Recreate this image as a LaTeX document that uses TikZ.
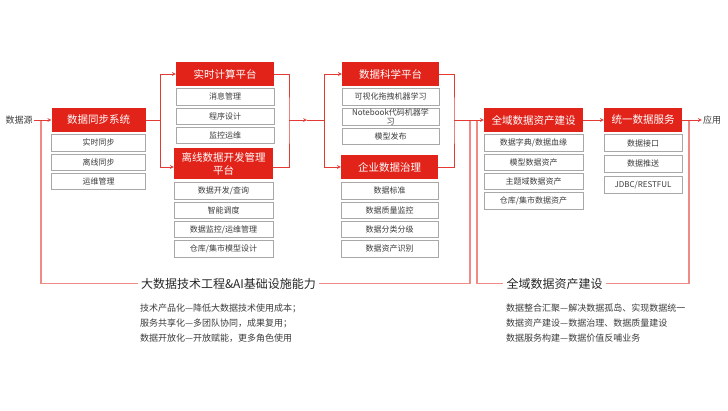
\documentclass[tikz,border=0pt]{standalone}
\usepackage{fontspec}
\setmainfont{Noto Sans CJK SC}
\usetikzlibrary{positioning}
\definecolor{hdred}{HTML}{E2231A}
\definecolor{lnred}{HTML}{E53A33}
\definecolor{pinkln}{HTML}{F08A85}
\definecolor{boxgray}{HTML}{A8A8A8}
\definecolor{txtgray}{HTML}{3C3C3C}

\tikzstyle{hdbox} = [rectangle, fill=hdred, text=white, minimum height=24pt, text centered, inner sep=1pt, font=\fontsize{10.5}{13}\selectfont]
\tikzstyle{subbox} = [rectangle, draw=boxgray, line width=0.8pt, minimum height=16.5pt, text centered, text=txtgray, inner sep=0.5pt, font=\fontsize{8}{9}\selectfont]
\tikzstyle{srctext} = [rectangle, inner sep=1pt, text=txtgray, font=\fontsize{9}{10}\selectfont]
\tikzstyle{grptitle} = [rectangle, inner sep=3pt, text=black!85, font=\fontsize{12}{14}\selectfont]
\tikzstyle{grpdesc} = [rectangle, inner sep=0pt, align=left, text=txtgray, font=\fontsize{9}{15}\selectfont]
\tikzstyle{link} = [draw=lnred, line width=0.7pt]
\tikzstyle{arrow} = [link, ->, >=stealth]
\tikzstyle{bracket} = [draw=pinkln, line width=1.2pt]

\begin{document}
\begin{tikzpicture}[x=1pt, y=-1pt, node distance=2pt]
  \useasboundingbox (0,0) rectangle (728,410);

  \node (src) [srctext] at (19,120) {数据源};
  \node (sync) [hdbox, minimum width=94pt] at (98.5,120) {数据同步系统};
  \node (sync_rt) [subbox, minimum width=94pt, below=of sync] {实时同步};
  \node (sync_off) [subbox, minimum width=94pt, below=of sync_rt] {离线同步};
  \node (sync_ops) [subbox, minimum width=94pt, below=of sync_off] {运维管理};

  \node (rt) [hdbox, minimum width=98pt] at (225,74) {实时计算平台};
  \node (rt_msg) [subbox, minimum width=98pt, below=of rt] {消息管理};
  \node (rt_prog) [subbox, minimum width=98pt, below=of rt_msg] {程序设计};
  \node (rt_mon) [subbox, minimum width=98pt, below=of rt_prog] {监控运维};

  \node (lx) [hdbox, minimum width=99pt, minimum height=31pt, align=center] at (223.5,163.5) {离线数据开发管理\\平台};
  \node (lx_dev) [subbox, minimum width=99pt, below=3pt of lx] {数据开发/查询};
  \node (lx_sched) [subbox, minimum width=99pt, below=of lx_dev] {智能调度};
  \node (lx_mon) [subbox, minimum width=99pt, below=of lx_sched] {数据监控/运维管理};
  \node (lx_wh) [subbox, minimum width=99pt, below=of lx_mon] {仓库/集市模型设计};

  \node (ds) [hdbox, minimum width=97pt] at (390.5,74) {数据科学平台};
  \node (ds_vis) [subbox, minimum width=97pt, below=of ds] {可视化拖拽机器学习};
  \node (ds_nb) [subbox, minimum width=97pt, below=of ds_vis, align=center] {Notebook代码机器学\\习};
  \node (ds_pub) [subbox, minimum width=97pt, below=of ds_nb] {模型发布};

  \node (gov) [hdbox, minimum width=97pt] at (389.5,167) {企业数据治理};
  \node (gov_std) [subbox, minimum width=97pt, below=3pt of gov] {数据标准};
  \node (gov_qc) [subbox, minimum width=97pt, below=of gov_std] {数据质量监控};
  \node (gov_cls) [subbox, minimum width=97pt, below=of gov_qc] {数据分类分级};
  \node (gov_id) [subbox, minimum width=97pt, below=of gov_cls] {数据资产识别};

  \node (asset) [hdbox, minimum width=99pt] at (533.5,120) {全域数据资产建设};
  \node (asset_dict) [subbox, minimum width=99pt, below=of asset] {数据字典/数据血缘};
  \node (asset_model) [subbox, minimum width=99pt, below=of asset_dict] {模型数据资产};
  \node (asset_topic) [subbox, minimum width=99pt, below=of asset_model] {主题域数据资产};
  \node (asset_wh) [subbox, minimum width=99pt, below=of asset_topic] {仓库/集市数据资产};

  \node (svc) [hdbox, minimum width=78pt] at (643,120) {统一数据服务};
  \node (svc_api) [subbox, minimum width=78pt, minimum height=17pt, below=of svc] {数据接口};
  \node (svc_push) [subbox, minimum width=78pt, minimum height=17pt, below=3pt of svc_api] {数据推送};
  \node (svc_jdbc) [subbox, minimum width=78pt, minimum height=17pt, below=3pt of svc_push] {JDBC/RESTFUL};

  \node (app) [srctext] at (712,120) {应用};

  \node (infra) [grptitle] at (228.5,283.5) {大数据技术工程\&AI基础设施能力};
  \node (infra_desc) [grpdesc, anchor=west] at (140,323) {技术产品化—降低大数据技术使用成本；\\服务共享化—多团队协同，成果复用；\\数据开放化—开放赋能，更多角色使用};
  \node (whole) [grptitle] at (554.5,283.5) {全域数据资产建设};
  \node (whole_desc) [grpdesc, anchor=west] at (506,323) {数据整合汇聚—解决数据孤岛、实现数据统一\\数据资产建设—数据治理、数据质量建设\\数据服务构建—数据价值反哺业务};

  \coordinate (src_j) at (41,120);
  \coordinate (sync_j) at (160,120);
  \coordinate (rt_j) at (289,120);
  \coordinate (mid_j) at (307,120);
  \coordinate (ds_j) at (324,120);
  \coordinate (gov_j) at (454,120);
  \coordinate (infra_end) at (470,120);
  \coordinate (whole_start) at (477,120);
  \coordinate (whole_end) at (689,120);

  % group brackets
  \draw [bracket] (src_j) |- (infra.west);
  \draw [bracket] (infra.east) -| (infra_end);
  \draw [bracket] (whole_start) |- (whole.west);
  \draw [bracket] (whole.east) -| (whole_end);

  \draw [arrow] (src) -- (sync);
  \draw [link] (sync) -- (sync_j);
  \draw [arrow] (sync_j) |- (rt.west);
  \draw [arrow] (sync_j) |- ([yshift=-3.5pt]lx.west);
  \draw [link] (rt.east) -| (rt_j) |- ([yshift=-3.5pt]lx.east);
  \draw [arrow] (rt_j) -- (mid_j);
  \draw [link] (mid_j) -- (ds_j);
  \draw [arrow] (ds_j) |- (ds.west);
  \draw [arrow] (ds_j) |- (gov.west);
  \draw [link] (ds.east) -| (gov_j) |- (gov.east);
  \draw [arrow] (gov_j) -- (asset);
  \draw [arrow] (asset) -- (svc);
  \draw [arrow] (svc) -- (app);
\end{tikzpicture}
\end{document}
